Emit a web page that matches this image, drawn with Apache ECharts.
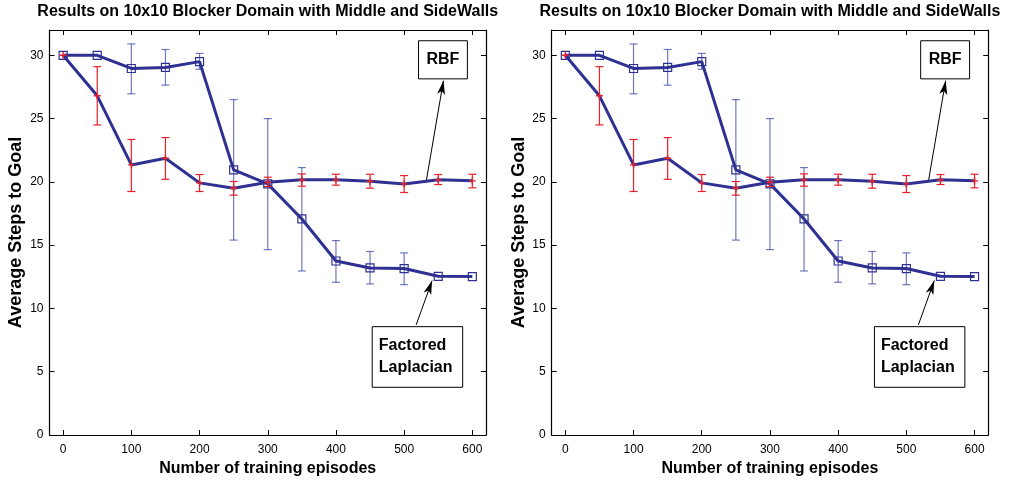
<!DOCTYPE html>
<html>
<head>
<meta charset="utf-8">
<script src="https://cdn.jsdelivr.net/npm/echarts@6/dist/echarts.min.js"></script>
<style>
  html, body { margin: 0; padding: 0; background: #fff; }
  #chart { width: 1009px; height: 482px; }
</style>
</head>
<body>
<div id="chart"></div>
<script>
// Training episodes on the x axis
const episodes = [0, 50, 100, 150, 200, 250, 300, 350, 400, 450, 500, 550, 600];

// Factored Laplacian: mean steps to goal and error-bar ends
const laplacianMean = [30, 30, 28.96, 29.04, 29.5, 20.95, 19.84, 17.07, 13.75, 13.2, 13.15, 12.54, 12.52];
const laplacianLow  = [null, null, 26.96, 27.64, 28.9, 15.4, 14.65, 12.96, 12.07, 11.94, 11.88, null, null];
const laplacianHigh = [null, null, 30.9, 30.46, 30.15, 26.5, 25.0, 21.13, 15.36, 14.5, 14.39, null, null];

// RBF: mean steps to goal and error-bar ends
const rbfMean = [30, 26.8, 21.34, 21.87, 19.92, 19.5, 19.97, 20.16, 20.16, 20.05, 19.84, 20.16, 20.08];
const rbfLow  = [null, 24.5, 19.24, 20.2, 19.24, 18.95, 19.63, 19.66, 19.74, 19.5, 19.16, 19.79, 19.53];
const rbfHigh = [null, 29.1, 23.35, 23.5, 20.58, 20.03, 20.37, 20.63, 20.6, 20.6, 20.5, 20.58, 20.6];

// Tick labels
const xTicks = [0, 100, 200, 300, 400, 500, 600];
const yTicks = [0, 5, 10, 15, 20, 25, 30];

const titleText = 'Results on 10x10 Blocker Domain with Middle and SideWalls';
const xName = 'Number of training episodes';
const yName = 'Average Steps to Goal';
const rbfLabel = 'RBF';
const laplacianLabel = 'Factored\nLaplacian';

const FONT = '"Liberation Sans", Arial, Helvetica, sans-serif';
const LINE_BLUE = '#2e3192';
const BAR_BLUE = 'rgba(52, 64, 165, 0.7)';
const BAR_RED = '#e5222b';

const panelLeft = [49.5, 551.7];
const panelWidth = 436.5;
const panelTop = 30;
const panelHeight = 405;

function pairs(values) {
  return episodes.map((x, i) => [x, values[i]]);
}
function bars(low, high) {
  const out = [];
  episodes.forEach((x, i) => {
    if (low[i] != null && high[i] != null) out.push([x, low[i], high[i]]);
  });
  return out;
}

// Vertical whisker with a cap at each end
function errorBarRenderer(color, capHalf, width) {
  return function (params, api) {
    const x = api.value(0);
    const lo = api.coord([x, api.value(1)]);
    const hi = api.coord([x, api.value(2)]);
    const style = { stroke: color, lineWidth: width };
    return {
      type: 'group',
      children: [
        { type: 'line', shape: { x1: lo[0], y1: lo[1], x2: hi[0], y2: hi[1] }, style },
        { type: 'line', shape: { x1: lo[0] - capHalf, y1: lo[1], x2: lo[0] + capHalf, y2: lo[1] }, style },
        { type: 'line', shape: { x1: hi[0] - capHalf, y1: hi[1], x2: hi[0] + capHalf, y2: hi[1] }, style }
      ]
    };
  };
}

function arrow(from, to) {
  return {
    silent: true, symbol: ['none', 'arrow'], symbolSize: [6, 14],
    label: { show: false },
    emphasis: { disabled: true },
    lineStyle: { color: '#000', width: 1, type: 'solid' },
    itemStyle: { color: '#000' },
    data: [[{ coord: from }, { coord: to }]]
  };
}

const grids = [], xAxes = [], yAxes = [], series = [], graphics = [];

panelLeft.forEach((left, g) => {
  grids.push({ left: left, top: panelTop, width: panelWidth, height: panelHeight, containLabel: false });

  const axisLine = { show: true, onZero: false, lineStyle: { color: '#000', width: 1.2 } };
  const baseX = {
    gridIndex: g, type: 'value', min: -20, max: 620,
    axisLine: axisLine, splitLine: { show: false },
    axisTick: { show: true, inside: true, length: 5, customValues: xTicks, lineStyle: { color: '#000', width: 1 } }
  };
  const baseY = {
    gridIndex: g, type: 'value', min: 0, max: 32,
    axisLine: axisLine, splitLine: { show: false },
    axisTick: { show: true, inside: true, length: 5, customValues: yTicks, lineStyle: { color: '#000', width: 1 } }
  };

  xAxes.push(Object.assign({}, baseX, {
    position: 'bottom',
    axisLabel: { show: true, customValues: xTicks, color: '#000', fontSize: 12, fontFamily: FONT, margin: 9 },
    name: xName, nameLocation: 'middle', nameGap: 24,
    nameTextStyle: { color: '#000', fontSize: 16, fontWeight: 'bold', fontFamily: FONT }
  }));
  xAxes.push(Object.assign({}, baseX, { position: 'top', axisLabel: { show: false } }));

  yAxes.push(Object.assign({}, baseY, {
    position: 'left',
    axisLabel: { show: true, customValues: yTicks, color: '#000', fontSize: 12, fontFamily: FONT, margin: 6 },
    name: yName, nameLocation: 'middle', nameGap: 24, nameRotate: 90,
    nameTextStyle: { color: '#000', fontSize: 18, fontWeight: 'bold', fontFamily: FONT }
  }));
  yAxes.push(Object.assign({}, baseY, { position: 'right', axisLabel: { show: false } }));

  const xi = g * 2, yi = g * 2;

  // Laplacian error bars (behind the lines)
  series.push({
    type: 'custom', xAxisIndex: xi, yAxisIndex: yi, z: 1,
    renderItem: errorBarRenderer(BAR_BLUE, 4, 1.2),
    data: bars(laplacianLow, laplacianHigh)
  });

  // Factored Laplacian curve with hollow square markers
  series.push({
    type: 'line', xAxisIndex: xi, yAxisIndex: yi, z: 2,
    data: pairs(laplacianMean),
    symbol: 'path://M0,0H10V10H0Z', symbolSize: 8,
    itemStyle: { color: 'rgba(255,255,255,0)', borderColor: LINE_BLUE, borderWidth: 1.2 },
    lineStyle: { color: LINE_BLUE, width: 3 },
    markLine: arrow([517.6, 8.7], [541, 12.2]),
    markArea: {
      silent: true,
      itemStyle: { color: '#fff', borderColor: '#000', borderWidth: 1, opacity: 1 },
      label: { show: true, position: 'insideLeft', distance: 7, color: '#000', fontSize: 16, fontWeight: 'bold', fontFamily: FONT, lineHeight: 22 },
      data: [[{ name: laplacianLabel, coord: [453.2, 8.56] }, { coord: [585.8, 3.77] }]]
    }
  });

  // RBF curve with plus markers
  series.push({
    type: 'line', xAxisIndex: xi, yAxisIndex: yi, z: 3,
    data: pairs(rbfMean),
    symbol: 'path://M5,0V10M0,5H10', symbolSize: 7,
    itemStyle: { color: 'rgba(255,255,255,0)', borderColor: BAR_RED, borderWidth: 1.4 },
    lineStyle: { color: LINE_BLUE, width: 3 },
    markLine: arrow([532.7, 20.16], [557.6, 28.0]),
    markArea: {
      silent: true,
      itemStyle: { color: '#fff', borderColor: '#000', borderWidth: 1, opacity: 1 },
      label: { show: true, position: 'inside', color: '#000', fontSize: 16, fontWeight: 'bold', fontFamily: FONT },
      data: [[{ name: rbfLabel, coord: [521, 31.15] }, { coord: [592.7, 28.14] }]]
    }
  });

  // RBF error bars (on top)
  series.push({
    type: 'custom', xAxisIndex: xi, yAxisIndex: yi, z: 4,
    renderItem: errorBarRenderer(BAR_RED, 4, 1.2),
    data: bars(rbfLow, rbfHigh)
  });

  graphics.push({
    type: 'text', x: left + panelWidth / 2, y: 12,
    style: { text: titleText, fill: '#000', font: 'bold 16px ' + FONT, align: 'center', verticalAlign: 'middle' }
  });
});

const chart = echarts.init(document.getElementById('chart'), null, { renderer: 'canvas' });
chart.setOption({
  animation: false,
  backgroundColor: '#fff',
  grid: grids,
  xAxis: xAxes,
  yAxis: yAxes,
  series: series,
  graphic: graphics
});
</script>
</body>
</html>
